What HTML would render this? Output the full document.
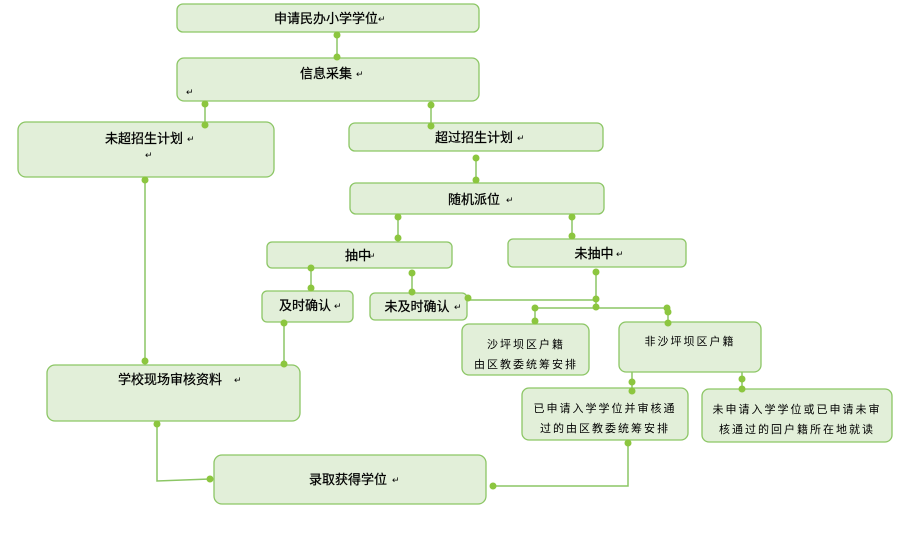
<!DOCTYPE html>
<html><head><meta charset="utf-8"><style>
body{margin:0;background:#fff;}
svg{display:block;}
text{font-family:"Liberation Sans","Noto Sans CJK SC",sans-serif;fill:#000;}
.b{fill:#e2efd9;stroke:#8cc665;stroke-width:1.3;}
.l{stroke:#8cc665;stroke-width:1.5;fill:none;}
.d{fill:#8cc63f;}
.r{fill:#888;font-size:9px;}
</style></head><body>
<svg width="898" height="541" viewBox="0 0 898 541">
<g class="l">
<path d="M337 32V58"/><path d="M205 104V125"/><path d="M431 104V124"/>
<path d="M476 158V180"/><path d="M398 217V240"/><path d="M572 217V239"/>
<path d="M311 268V288"/><path d="M412 274V292"/>
<path d="M596 272V300H467"/><path d="M535 308H667"/><path d="M596 300V308"/>
<path d="M535 308V323"/><path d="M668 308V322"/>
<path d="M145 180V361"/><path d="M284 323V364"/>
<path d="M632 372V388"/><path d="M742 372V389"/>
<path d="M157 424V481L210 479"/><path d="M628 443V486H493"/>
</g>
<g class="b">
<rect x="177" y="4" width="302" height="28" rx="6"/>
<rect x="177" y="58" width="302" height="43" rx="7"/>
<rect x="18" y="122" width="256" height="55" rx="8"/>
<rect x="349" y="123" width="254" height="28" rx="6"/>
<rect x="350" y="183" width="254" height="31" rx="6"/>
<rect x="267" y="242" width="185" height="26" rx="5"/>
<rect x="508" y="239" width="178" height="28" rx="5"/>
<rect x="262" y="291" width="91" height="31" rx="5"/>
<rect x="370" y="293" width="97" height="27" rx="5"/>
<rect x="462" y="324" width="127" height="51" rx="7"/>
<rect x="619" y="322" width="142" height="50" rx="7"/>
<rect x="47" y="365" width="253" height="56" rx="8"/>
<rect x="522" y="388" width="166" height="52" rx="7"/>
<rect x="702" y="389" width="190" height="53" rx="7"/>
<rect x="214" y="455" width="272" height="49" rx="8"/>
</g>
<g class="d">
<circle cx="337" cy="35" r="3.5"/><circle cx="337" cy="57" r="3.5"/>
<circle cx="205" cy="104" r="3.5"/><circle cx="205" cy="125" r="3.5"/>
<circle cx="431" cy="105" r="3.5"/><circle cx="431" cy="126" r="3.5"/>
<circle cx="476" cy="158" r="3.5"/><circle cx="476" cy="180" r="3.5"/>
<circle cx="398" cy="217" r="3.5"/><circle cx="398" cy="238" r="3.5"/>
<circle cx="572" cy="217" r="3.5"/><circle cx="572" cy="236" r="3.5"/>
<circle cx="311" cy="268" r="3.5"/><circle cx="311" cy="288" r="3.5"/>
<circle cx="412" cy="273" r="3.5"/><circle cx="412" cy="292" r="3.5"/>
<circle cx="596" cy="272" r="3.5"/><circle cx="596" cy="299" r="3.5"/><circle cx="596" cy="307" r="3.5"/>
<circle cx="468" cy="298" r="3.5"/>
<circle cx="535" cy="308" r="3.5"/><circle cx="535" cy="321" r="3.5"/>
<circle cx="667" cy="308" r="3.5"/><circle cx="668" cy="312" r="3.5"/><circle cx="668" cy="323" r="3.5"/>
<circle cx="145" cy="180" r="3.5"/><circle cx="145" cy="361" r="3.5"/>
<circle cx="284" cy="323" r="3.5"/><circle cx="284" cy="364" r="3.5"/>
<circle cx="632" cy="382" r="3.5"/><circle cx="632" cy="391" r="3.5"/>
<circle cx="742" cy="379" r="3.5"/><circle cx="742" cy="389" r="3.5"/>
<circle cx="157" cy="424" r="3.5"/><circle cx="210" cy="479" r="3.5"/>
<circle cx="628" cy="443" r="3.5"/><circle cx="493" cy="486" r="3.5"/>
</g>
<g font-size="13" text-anchor="middle" stroke="#000" stroke-width="0.25">
<text x="326" y="23">申请民办小学学位</text>
<text x="326" y="78">信息采集</text>
<text x="144" y="143">未超招生计划</text>
<text x="474" y="142">超过招生计划</text>
<text x="474" y="204">随机派位</text>
<text x="358" y="260">抽中</text>
<text x="594" y="258">未抽中</text>
<text x="305" y="310">及时确认</text>
<text x="417" y="311">未及时确认</text>
<text x="170" y="384">学校现场审核资料</text>
<text x="348" y="484">录取获得学位</text>
</g>
<g class="r">
<text x="378" y="22">↵</text><text x="356" y="77">↵</text><text x="186" y="95">↵</text>
<text x="187" y="142">↵</text><text x="145" y="158">↵</text><text x="517" y="141">↵</text>
<text x="506" y="203">↵</text><text x="368" y="259">↵</text><text x="616" y="257">↵</text>
<text x="334" y="309">↵</text><text x="454" y="310">↵</text><text x="234" y="383">↵</text>
<text x="392" y="483">↵</text>
</g>
<g font-size="11" text-anchor="middle" letter-spacing="2">
<text x="526" y="348">沙坪坝区户籍</text>
<text x="526" y="368">由区教委统筹安排</text>
<text x="690" y="345">非沙坪坝区户籍</text>
<text x="605" y="412">已申请入学学位并审核通</text>
<text x="605" y="432">过的由区教委统筹安排</text>
<text x="797" y="413">未申请入学学位或已申请未审</text>
<text x="797" y="433">核通过的回户籍所在地就读</text>
</g>
</svg>
</body></html>
